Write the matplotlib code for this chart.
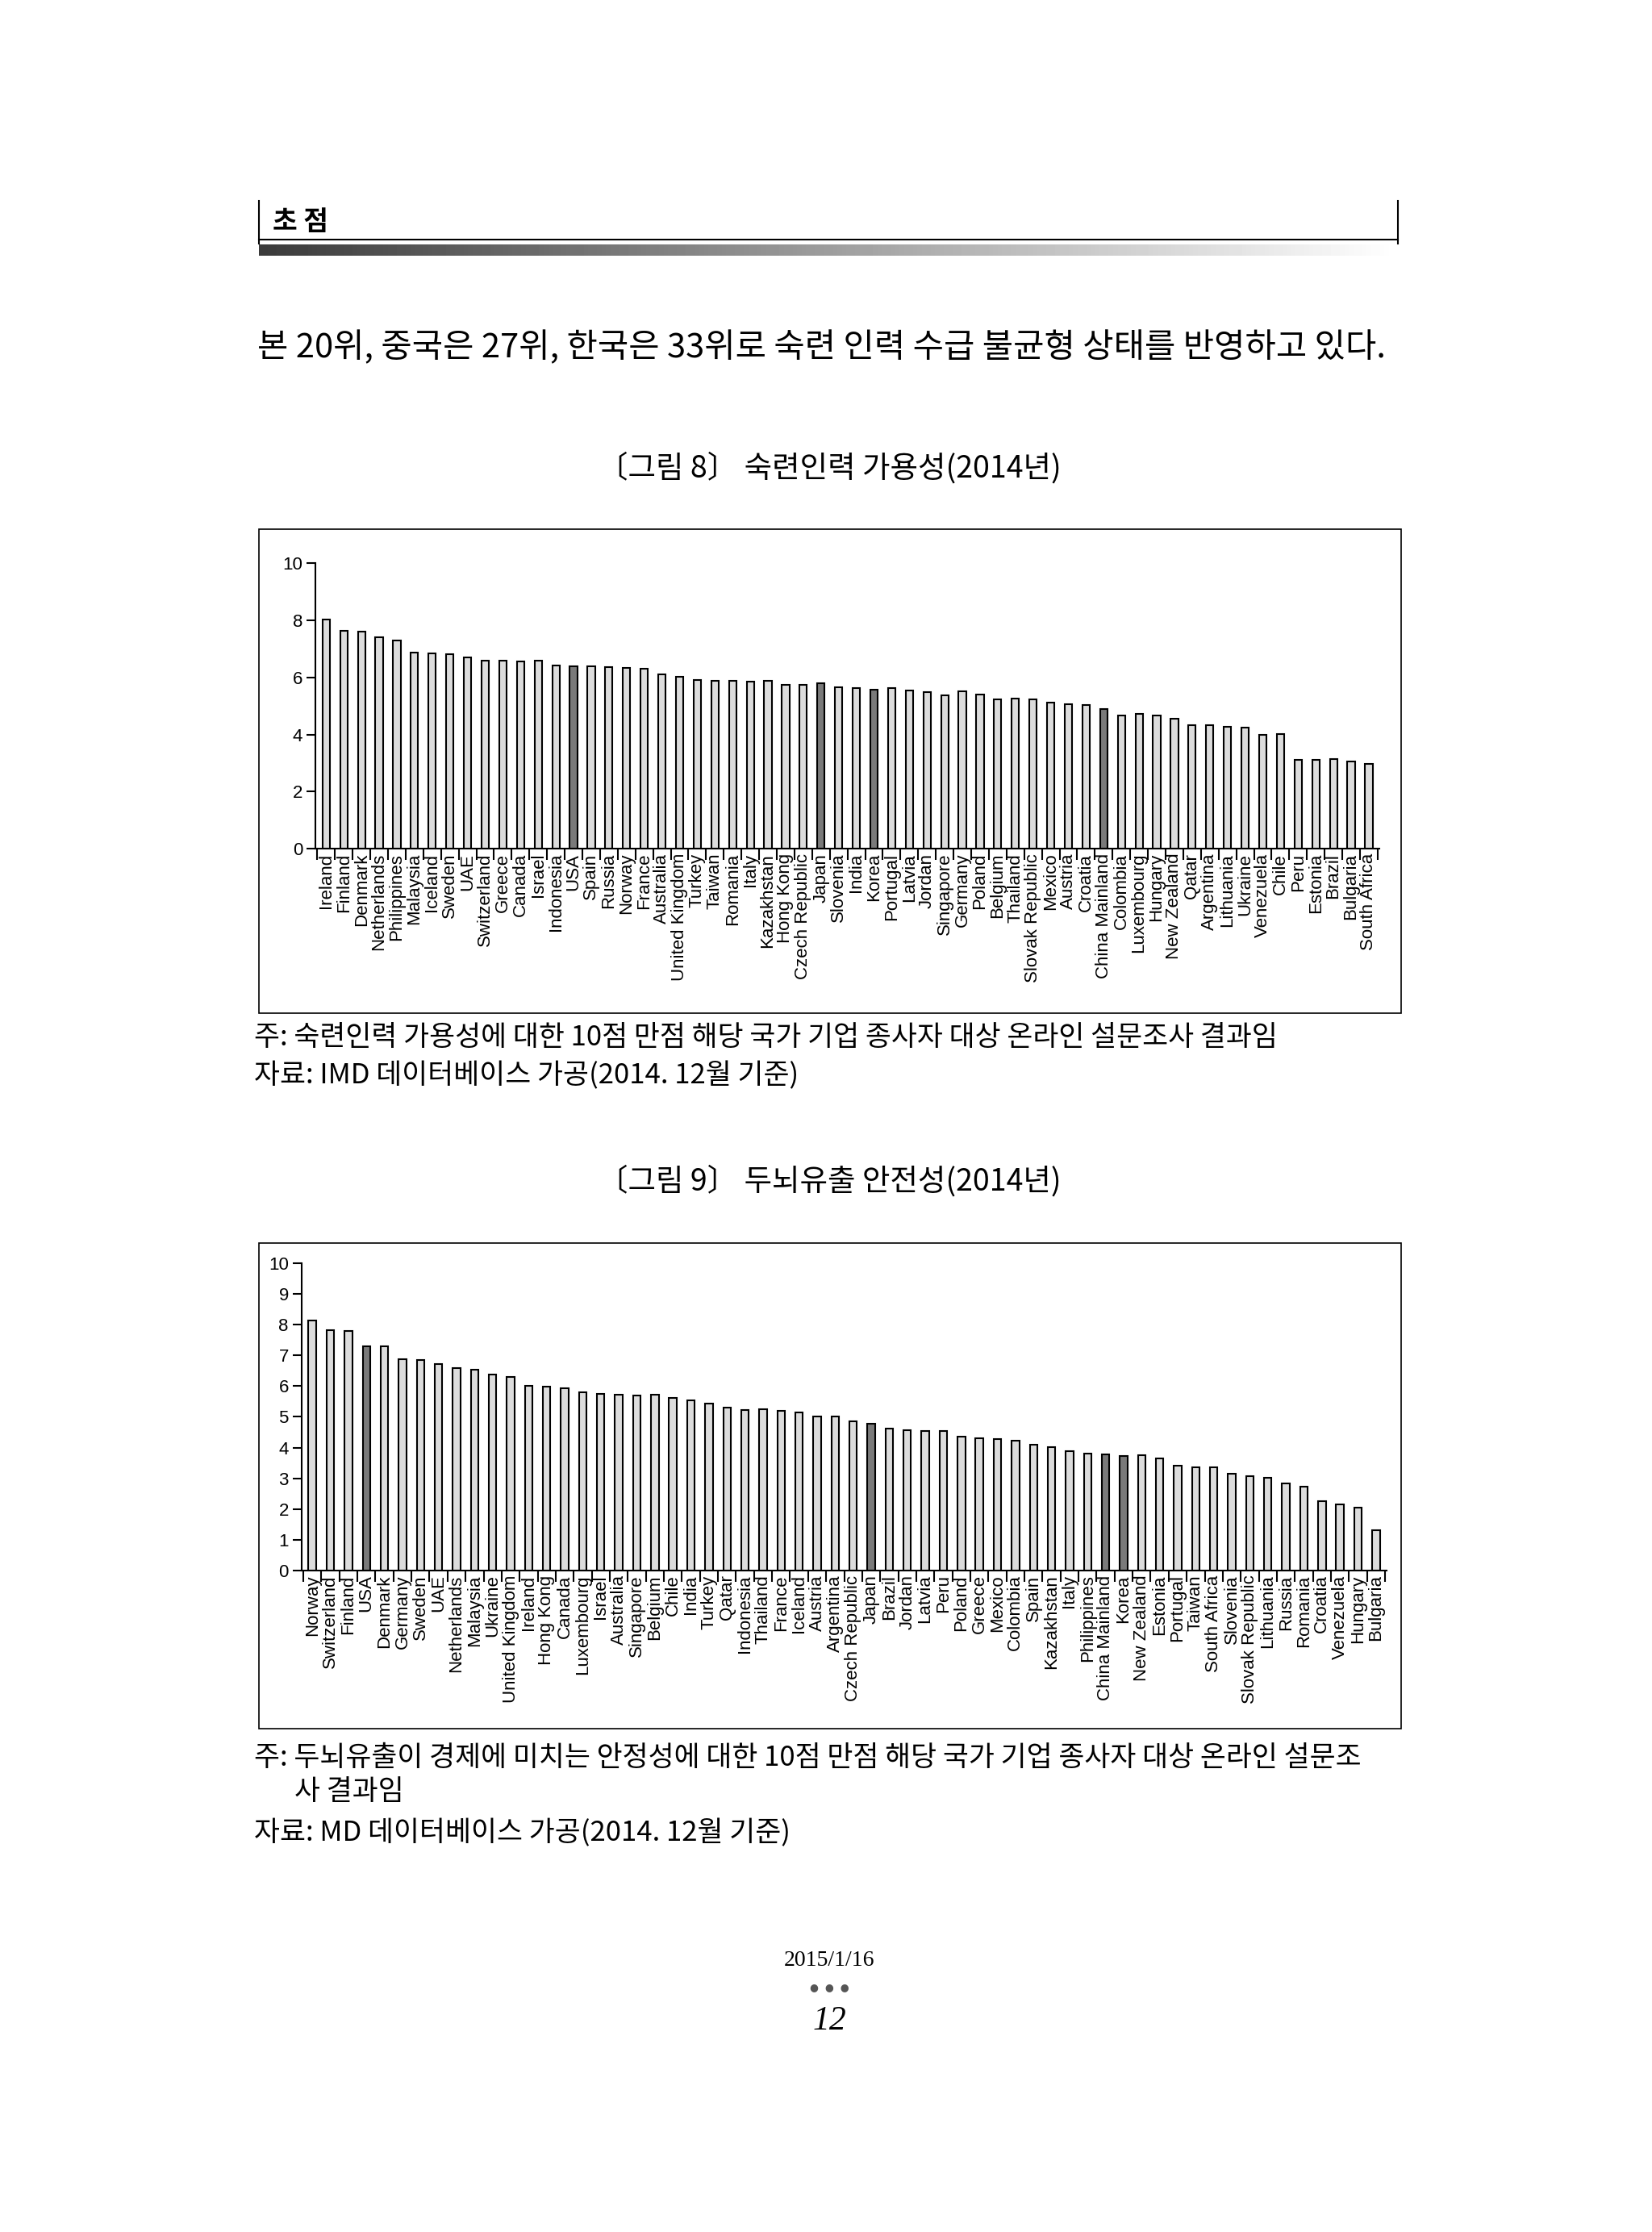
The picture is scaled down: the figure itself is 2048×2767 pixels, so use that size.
import matplotlib
matplotlib.use("Agg")
import matplotlib.pyplot as plt
import numpy as np
from matplotlib.patches import Rectangle

plt.rcParams['font.family'] = ['Noto Sans CJK KR', 'DejaVu Sans']

c1 = ["Ireland","Finland","Denmark","Netherlands","Philippines","Malaysia","Iceland","Sweden","UAE",
      "Switzerland","Greece","Canada","Israel","Indonesia","USA","Spain","Russia","Norway","France",
      "Australia","United Kingdom","Turkey","Taiwan","Romania","Italy","Kazakhstan","Hong Kong",
      "Czech Republic","Japan","Slovenia","India","Korea","Portugal","Latvia","Jordan","Singapore",
      "Germany","Poland","Belgium","Thailand","Slovak Republic","Mexico","Austria","Croatia",
      "China Mainland","Colombia","Luxembourg","Hungary","New Zealand","Qatar","Argentina",
      "Lithuania","Ukraine","Venezuela","Chile","Peru","Estonia","Brazil","Bulgaria","South Africa"]
v1 = [8.02,7.64,7.61,7.41,7.28,6.88,6.84,6.82,6.70,6.58,6.58,6.57,6.60,6.41,6.38,6.39,6.35,6.34,6.30,
      6.12,6.02,5.90,5.87,5.87,5.84,5.88,5.74,5.74,5.79,5.66,5.63,5.58,5.63,5.53,5.48,5.38,5.50,5.41,
      5.22,5.26,5.23,5.13,5.07,5.03,4.89,4.68,4.71,4.67,4.55,4.32,4.32,4.26,4.24,4.00,4.01,3.12,3.12,
      3.14,3.05,2.96]

c2 = ["Norway","Switzerland","Finland","USA","Denmark","Germany","Sweden","UAE","Netherlands","Malaysia",
      "Ukraine","United Kingdom","Ireland","Hong Kong","Canada","Luxembourg","Israel","Australia",
      "Singapore","Belgium","Chile","India","Turkey","Qatar","Indonesia","Thailand","France","Iceland",
      "Austria","Argentina","Czech Republic","Japan","Brazil","Jordan","Latvia","Peru","Poland","Greece",
      "Mexico","Colombia","Spain","Kazakhstan","Italy","Philippines","China Mainland","Korea",
      "New Zealand","Estonia","Portugal","Taiwan","South Africa","Slovenia","Slovak Republic",
      "Lithuania","Russia","Romania","Croatia","Venezuela","Hungary","Bulgaria"]
v2 = [8.14,7.82,7.81,7.30,7.31,6.88,6.84,6.73,6.59,6.54,6.38,6.31,6.00,5.99,5.93,5.81,5.74,5.73,5.69,
      5.71,5.61,5.53,5.43,5.29,5.23,5.24,5.19,5.14,5.01,5.00,4.85,4.78,4.63,4.57,4.53,4.53,4.35,4.31,
      4.27,4.22,4.10,4.01,3.88,3.81,3.77,3.73,3.74,3.66,3.42,3.35,3.36,3.15,3.06,3.01,2.82,2.72,2.26,
      2.16,2.05,1.30]

highlight = ["USA", "Japan", "Korea", "China Mainland"]

fig = plt.figure(figsize=(20.48, 27.67), dpi=100)
fig.patch.set_facecolor('white')

# header
fig.text(0.165, 0.9005, "초 점", fontsize=24, fontweight='bold', va='center', ha='left')
fig.add_artist(plt.Line2D([0.1566, 0.1566], [0.891, 0.910], color='black', lw=1.5))
fig.add_artist(plt.Line2D([0.846, 0.846], [0.891, 0.910], color='black', lw=1.5))
fig.add_artist(plt.Line2D([0.1566, 0.846], [0.8925, 0.8925], color='black', lw=1.5))
grad = np.linspace(0, 1, 256).reshape(1, -1)
gax = fig.add_axes([0.1566, 0.8855, 0.6894, 0.005])
gax.imshow(grad, aspect='auto', cmap='gray', vmin=-0.3, vmax=1.0)
gax.axis('off')

fig.text(0.156, 0.8444, "본 20위, 중국은 27위, 한국은 33위로 숙련 인력 수급 불균형 상태를 반영하고 있다.",
         fontsize=30, va='center', ha='left')

fig.text(0.502, 0.790, "〔그림 8〕 숙련인력 가용성(2014년)", fontsize=27, ha='center', va='center')
fig.text(0.502, 0.4706, "〔그림 9〕 두뇌유출 안전성(2014년)", fontsize=27, ha='center', va='center')

def box(y0, y1):
    fig.add_artist(Rectangle((0.1566, y0), 0.6915, y1 - y0, fill=False, ec='black', lw=1.2,
                             transform=fig.transFigure))

box(0.546, 0.763)
box(0.2254, 0.443)

def chart(rect, cats, vals, yticks):
    ax = fig.add_axes(rect)
    x = np.arange(len(cats))
    colors = ['#7a7a7a' if c in highlight else '#dcdcdc' for c in cats]
    ax.bar(x, vals, width=0.42, color=colors, edgecolor='black', linewidth=1.5)
    ax.set_xlim(-0.6, len(cats) - 0.4)
    ax.set_ylim(0, 10)
    ax.set_yticks(yticks)
    ax.set_xticks(np.arange(len(cats) + 1) - 0.5, minor=False)
    ax.set_xticklabels([])
    ax.set_xticks(x, minor=True)
    ax.set_xticklabels(cats, minor=True, rotation=90, fontsize=16, family=['Liberation Sans'])
    ax.tick_params(axis='x', which='minor', length=0, pad=4)
    ax.tick_params(axis='x', which='major', length=10, width=1.5, direction='out')
    ax.tick_params(axis='y', length=8, width=1.5, labelsize=16)
    for lab in ax.get_yticklabels():
        lab.set_family(['Liberation Sans'])
    for s in ['top', 'right']:
        ax.spines[s].set_visible(False)
    for s in ['left', 'bottom']:
        ax.spines[s].set_linewidth(1.5)
    return ax

chart([0.191, 0.6197, 0.644, 0.128], c1, v1, [0, 2, 4, 6, 8, 10])
chart([0.1825, 0.2964, 0.657, 0.1376], c2, v2, list(range(11)))

fs = 25
fig.text(0.154, 0.535, "주: 숙련인력 가용성에 대한 10점 만점 해당 국가 기업 종사자 대상 온라인 설문조사 결과임",
         fontsize=fs, va='center')
fig.text(0.154, 0.518, "자료: IMD 데이터베이스 가공(2014. 12월 기준)", fontsize=fs, va='center')
fig.text(0.154, 0.2125, "주: 두뇌유출이 경제에 미치는 안정성에 대한 10점 만점 해당 국가 기업 종사자 대상 온라인 설문조",
         fontsize=fs, va='center')
fig.text(0.178, 0.197, "사 결과임", fontsize=fs, va='center')
fig.text(0.154, 0.1786, "자료: MD 데이터베이스 가공(2014. 12월 기준)", fontsize=fs, va='center')

fig.text(0.502, 0.1216, "2015/1/16", fontsize=20, ha='center', va='center', family=['Liberation Serif'])
fig.text(0.502, 0.1095, "●  ●  ●", fontsize=9, ha='center', va='center', color='#555555',
         family=['DejaVu Sans'])
fig.text(0.502, 0.0945, "12", fontsize=30, ha='center', va='center', style='italic',
         family=['Liberation Serif'])

fig.savefig("out.png", dpi=100, facecolor='white')
